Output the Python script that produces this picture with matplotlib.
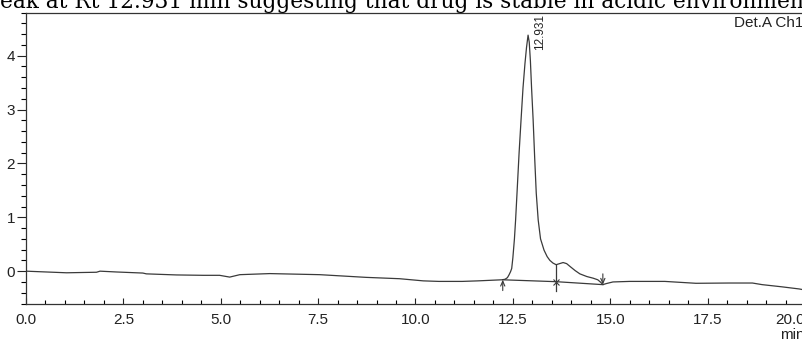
import matplotlib
matplotlib.use('Agg')
import matplotlib.pyplot as plt
from matplotlib.ticker import MultipleLocator, FixedLocator

# chromatogram trace (time in min, detector signal)
times = [0.0, 1.04, 1.81, 1.90, 2.32, 3.00, 3.09, 3.86, 4.55, 4.97, 5.23, 5.49,
         6.26, 7.54, 8.73, 9.59, 10.20, 10.60, 11.20, 11.60, 12.22,
         12.30, 12.36, 12.40, 12.44, 12.47, 12.50, 12.54, 12.57, 12.61, 12.66,
         12.71, 12.76, 12.81, 12.85, 12.89, 12.92, 12.95, 12.98, 13.02, 13.06,
         13.10, 13.15, 13.21, 13.30, 13.38, 13.45, 13.53, 13.61, 13.70, 13.79,
         13.88, 13.98, 14.10, 14.22, 14.40, 14.56, 14.68, 14.76, 14.81, 14.90,
         15.07, 15.50, 16.40, 17.20, 18.05, 18.65, 18.90, 19.40, 19.85, 20.00]
signal = [0.0, -0.03, -0.02, 0.0, -0.015, -0.035, -0.05, -0.07, -0.077, -0.077, -0.11, -0.065,
          -0.045, -0.065, -0.115, -0.14, -0.18, -0.19, -0.19, -0.18, -0.16,
          -0.15, -0.12, -0.07, -0.01, 0.05, 0.25, 0.60, 0.95, 1.50, 2.20,
          2.81, 3.40, 3.85, 4.15, 4.38, 4.25, 3.90, 3.40, 2.81, 2.10,
          1.45, 0.95, 0.60, 0.39, 0.27, 0.20, 0.15, 0.12, 0.14, 0.16,
          0.14, 0.08, 0.01, -0.05, -0.10, -0.13, -0.16, -0.21, -0.25, -0.23,
          -0.20, -0.19, -0.19, -0.225, -0.22, -0.22, -0.25, -0.29, -0.33, -0.35]

# integration marks: start, drop line, end
mark_t = [12.24, 13.61, 14.81]
mark_base = [-0.16, -0.195, -0.25]
drop_top = 0.12

peak_rt = '12.931'
peak_h = 4.38
x_ticks = [0.0, 2.5, 5.0, 7.5, 10.0, 12.5, 15.0, 17.5, 20.0]
y_ticks = [0, 1, 2, 3, 4]

W, H = 803, 340
fig = plt.figure(figsize=(W / 100, H / 100), dpi=100)
# axes runs slightly off the right edge like the scanned page
ax = fig.add_axes([26 / W, (H - 303.5) / H, (805 - 26) / W, 291 / H])

line_c = '#3a3a3a'
ax.plot(times, signal, color=line_c, lw=0.9)

# integration baseline
ax.plot(mark_t, mark_base, color=line_c, lw=0.9)
# start arrow (up), end arrow (down)
arrow = dict(arrowstyle='->,head_length=0.35,head_width=0.15', color=line_c, lw=0.8,
             shrinkA=0, shrinkB=0)
ax.annotate('', xy=(mark_t[0], mark_base[0]), xytext=(mark_t[0], mark_base[0] - 0.2),
            arrowprops=arrow)
ax.annotate('', xy=(mark_t[2], mark_base[2]), xytext=(mark_t[2], mark_base[2] + 0.2),
            arrowprops=arrow)
# drop line with cross
ax.plot([mark_t[1], mark_t[1]], [drop_top, mark_base[1] - 0.18], color=line_c, lw=0.9)
ax.plot(mark_t[1], mark_base[1], marker='x', ms=5, mew=0.8, color=line_c)

ax.text(12.93 + 0.28, peak_h + 0.4, peak_rt, rotation=90, ha='center', va='top',
        fontsize=8.5, family='Liberation Sans', color='#222222')
ax.text(19.97, 4.74, 'Det.A Ch1', ha='right', va='top', fontsize=11,
        family='Liberation Sans', color='#222222')

ax.set_xlim(0, 20)
ax.set_ylim(-0.6, 4.8)
ax.xaxis.set_major_locator(FixedLocator(x_ticks))
ax.xaxis.set_minor_locator(MultipleLocator(0.5))
ax.set_xticklabels(['%.1f' % v for v in x_ticks])
ax.yaxis.set_major_locator(FixedLocator(y_ticks))
ax.yaxis.set_minor_locator(MultipleLocator(0.2))
ax.set_yticklabels([str(v) for v in y_ticks])

ax.tick_params(axis='x', which='major', direction='in', length=4.5, width=0.8, pad=7,
               labelsize=11, colors='#222222')
ax.tick_params(axis='x', which='minor', direction='in', length=3, width=0.8)
ax.tick_params(axis='y', which='major', direction='out', length=6.5, width=0.8, pad=1.5,
               labelsize=11, colors='#222222')
ax.tick_params(axis='y', which='minor', direction='out', length=3.6, width=0.8)
for lab in ax.get_xticklabels() + ax.get_yticklabels():
    lab.set_family('Liberation Sans')
ax.get_xticklabels()[-1].set_horizontalalignment('right')

ax.spines['right'].set_visible(False)
for s in ['left', 'bottom', 'top']:
    ax.spines[s].set_linewidth(0.9)
    ax.spines[s].set_color('#333333')

ax.text(20, -0.108, 'min', transform=ax.get_xaxis_transform(), ha='right', va='center',
        fontsize=11, family='Liberation Sans', color='#222222')

# caption line of the page, cut off at the top of the scan
fig.text(0, 1 - 8 / H, 'eak at Rt 12.931 min suggesting that drug is stable in acidic environment',
         ha='left', va='baseline', fontsize=15.6, family='DejaVu Serif', color='black')

fig.savefig('out.png', dpi=100)
